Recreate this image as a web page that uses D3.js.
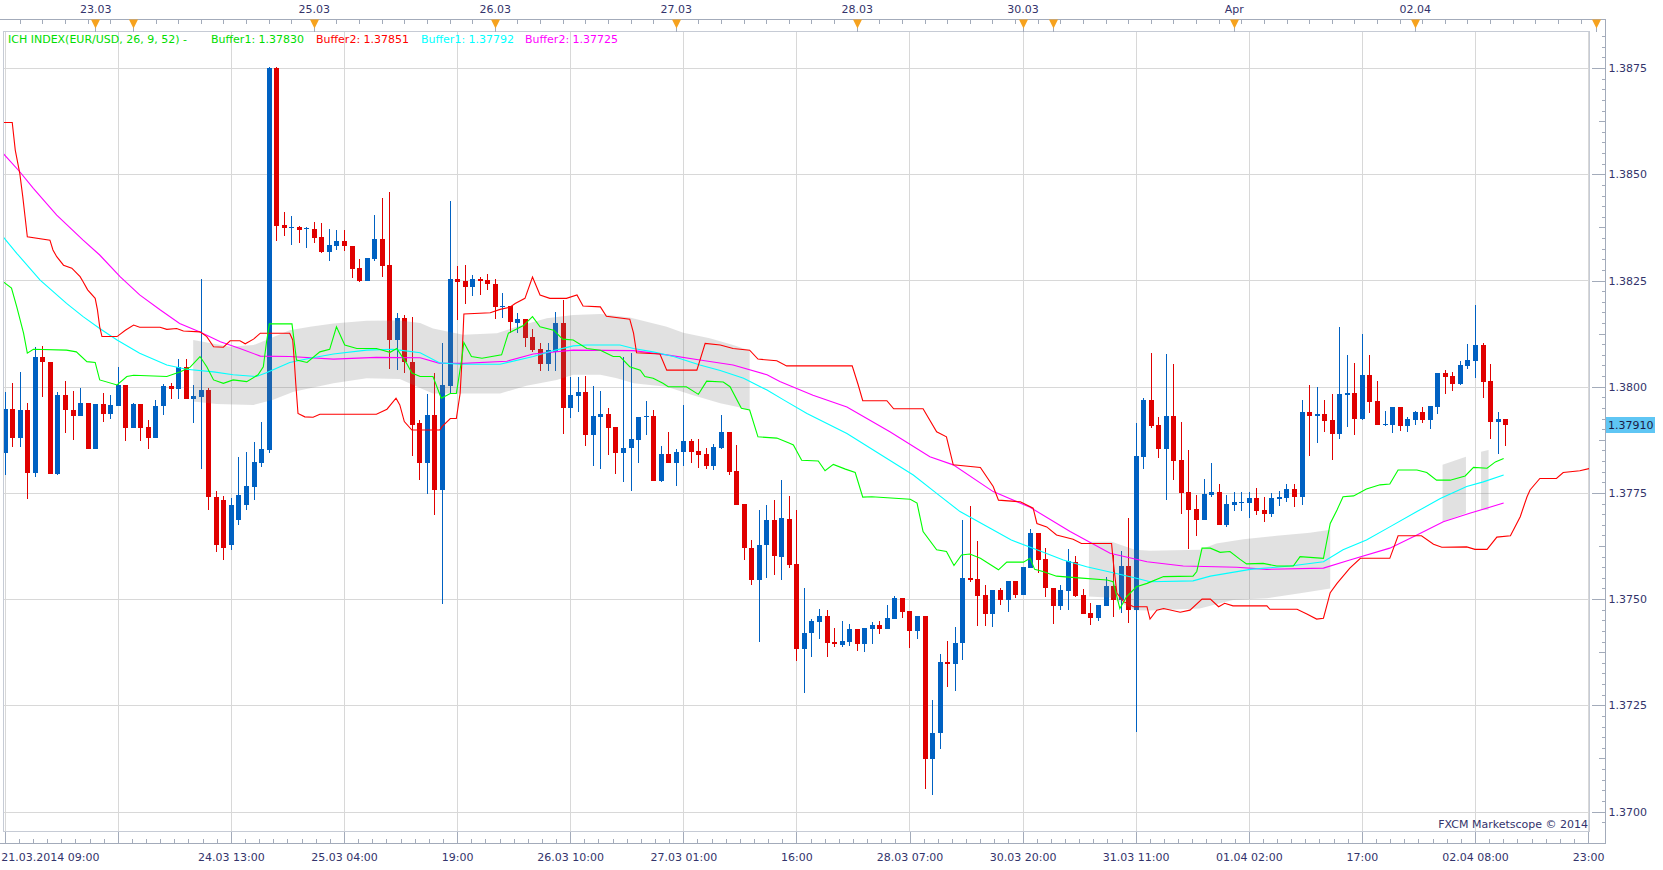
<!DOCTYPE html>
<html>
<head>
<meta charset="utf-8">
<script src="https://cdnjs.cloudflare.com/ajax/libs/d3/7.8.5/d3.min.js"></script>
<style>
body { margin: 0; background: #fff; }
svg text { font-family: "DejaVu Sans", Verdana, sans-serif; font-size: 11px; fill: #33336b; }
</style>
</head>
<body>
<div id="chart"></div>
<script>
// hourly EUR/USD bars, 21.03.2014 09:00 .. 02.04.2014 12:00
var open = [
1.37845,1.37948,1.3788,1.37945,1.37798,1.3807,1.38058,1.37795,1.3798,1.37945,
1.37931,1.37962,1.37854,1.37959,1.37936,1.37955,1.38004,1.37903,1.37959,1.37905,
1.3788,1.37955,1.38002,1.37995,1.38046,1.37972,1.37976,1.37992,1.3774,1.37733,
1.37627,1.37686,1.37722,1.37765,1.37821,1.37851,1.3875,1.38381,1.38373,1.38377,
1.38373,1.38371,1.38353,1.38318,1.38332,1.38343,1.38332,1.3828,1.38249,1.38301,
1.38348,1.38287,1.38111,1.38161,1.38059,1.37914,1.37821,1.37933,1.37757,1.38002,
1.38254,1.38249,1.38235,1.38254,1.38251,1.38242,1.38188,1.38189,1.38151,1.38159,
1.38118,1.38088,1.38054,1.38081,1.38149,1.37951,1.37979,1.37988,1.37886,1.37929,
1.37936,1.37905,1.37845,1.37855,1.37875,1.37928,1.37931,1.37779,1.37842,1.37821,
1.37846,1.37872,1.37849,1.37841,1.37813,1.37856,1.37893,1.37802,1.37724,1.3762,
1.37545,1.37627,1.37686,1.376,1.37689,1.37583,1.37382,1.3742,1.37447,1.3746,
1.37399,1.37392,1.374,1.3743,1.37395,1.3743,1.37439,1.3743,1.37453,1.37503,
1.37472,1.37426,1.3746,1.37124,1.37184,1.37352,1.37348,1.37396,1.3755,1.37547,
1.3751,1.37466,1.37521,1.37498,1.37543,1.3751,1.37574,1.37656,1.37594,1.37527,
1.37484,1.3752,1.37588,1.3751,1.37467,1.37456,1.37484,1.37531,1.37498,1.37578,
1.37474,1.37835,1.37969,1.3791,1.37853,1.37931,1.37827,1.37752,1.37712,1.37686,
1.37745,1.37752,1.37674,1.37722,1.37727,1.37727,1.37738,1.3771,1.37701,1.37736,
1.37738,1.37759,1.3774,1.3794,1.37932,1.37936,1.37922,1.37889,1.3798,1.37985,
1.37924,1.38028,1.37966,1.3791,1.3791,1.37952,1.37907,1.37922,1.3794,1.37922,
1.37952,1.38032,1.38025,1.38006,1.38049,1.38061,1.38098,1.38013,1.37917,1.37924
];
var high = [
1.37988,1.38009,1.38035,1.37962,1.38093,1.38096,1.38058,1.37988,1.38013,1.3799,
1.37997,1.37962,1.37959,1.37984,1.3798,1.38046,1.38004,1.37962,1.37959,1.37922,
1.37969,1.38006,1.38009,1.38065,1.38065,1.38004,1.38254,1.37997,1.37754,1.37743,
1.37738,1.37835,1.37846,1.37869,1.37917,1.38752,1.38752,1.38411,1.38402,1.38379,
1.38376,1.38388,1.38385,1.38371,1.38369,1.38369,1.38332,1.38301,1.38303,1.38404,
1.38445,1.38459,1.38174,1.38169,1.38165,1.37922,1.37983,1.38033,1.38102,1.38438,
1.38284,1.38287,1.38263,1.38259,1.38265,1.38254,1.3822,1.38189,1.38174,1.38159,
1.38135,1.38102,1.38102,1.38177,1.38204,1.38024,1.38024,1.38025,1.38002,1.37991,
1.37951,1.37905,1.3807,1.3808,1.37929,1.37966,1.37945,1.37861,1.37893,1.37853,
1.37957,1.37876,1.37878,1.37855,1.37866,1.37933,1.37893,1.37863,1.37724,1.37639,
1.3771,1.37722,1.37733,1.3778,1.37743,1.3771,1.37525,1.37452,1.37477,1.37474,
1.37431,1.37449,1.37441,1.3743,1.37432,1.37445,1.37448,1.37486,1.37508,1.37503,
1.37472,1.3746,1.3746,1.37262,1.37371,1.37402,1.37434,1.37686,1.37719,1.37637,
1.37533,1.37521,1.37525,1.37543,1.37543,1.37576,1.37666,1.37656,1.37621,1.37527,
1.37534,1.37618,1.37602,1.37524,1.37491,1.37486,1.37552,1.37604,1.37613,1.37692,
1.37914,1.37974,1.38079,1.37929,1.38077,1.38053,1.37917,1.37851,1.37745,1.37783,
1.3782,1.37771,1.37745,1.37752,1.37752,1.37752,1.37762,1.3774,1.3775,1.37754,
1.37771,1.37771,1.37969,1.38004,1.37999,1.37969,1.37983,1.38141,1.38075,1.38056,
1.38124,1.38075,1.38013,1.37943,1.37952,1.37952,1.37929,1.37943,1.37952,1.37955,
1.38032,1.38039,1.38035,1.38061,1.38101,1.38192,1.38103,1.38053,1.3794,1.37924
];
var low = [
1.37792,1.37859,1.37859,1.37736,1.37788,1.37976,1.37795,1.37793,1.3789,1.37875,
1.37931,1.37854,1.37854,1.37918,1.37924,1.37955,1.37871,1.37903,1.37873,1.37854,
1.3788,1.37933,1.37972,1.37972,1.37972,1.37915,1.37807,1.3771,1.37611,1.37592,
1.37616,1.37674,1.3771,1.37733,1.37812,1.37845,1.38344,1.38355,1.38334,1.38339,
1.38327,1.38339,1.38314,1.38297,1.38322,1.3832,1.38257,1.38247,1.38249,1.38297,
1.38259,1.38042,1.38039,1.38033,1.37838,1.3778,1.37747,1.37698,1.37489,1.37984,
1.38157,1.38195,1.38214,1.38216,1.38228,1.38159,1.38162,1.38127,1.38127,1.38094,
1.38082,1.38038,1.38038,1.38038,1.37889,1.37927,1.3794,1.37861,1.37814,1.37807,
1.37839,1.37794,1.37776,1.37755,1.37821,1.37886,1.37779,1.37776,1.37821,1.37767,
1.37814,1.37821,1.37809,1.37807,1.37803,1.37853,1.37791,1.37722,1.37592,1.37533,
1.37399,1.3755,1.37557,1.37545,1.37573,1.37355,1.37278,1.37363,1.37407,1.37364,
1.37388,1.37388,1.3739,1.37379,1.37375,1.37395,1.37418,1.3743,1.37453,1.37456,
1.37386,1.37407,1.37052,1.37039,1.37146,1.37292,1.37284,1.37357,1.37541,1.37437,
1.37437,1.37435,1.37487,1.3747,1.37502,1.3751,1.37574,1.37561,1.37506,1.37442,
1.37474,1.37474,1.37506,1.37466,1.3744,1.37448,1.37484,1.37459,1.37467,1.37443,
1.37186,1.37806,1.37902,1.37833,1.37733,1.3778,1.377,1.37619,1.37649,1.37686,
1.37741,1.37674,1.3767,1.37707,1.37707,1.37691,1.37699,1.37682,1.37694,1.37719,
1.37729,1.37717,1.37722,1.37837,1.37867,1.37893,1.37827,1.37877,1.37905,1.37886,
1.37922,1.37938,1.3791,1.37907,1.37891,1.37896,1.37893,1.3791,1.37915,1.37901,
1.37936,1.37983,1.3799,1.38004,1.38042,1.38021,1.37973,1.37877,1.37842,1.3786
];
var close = [
1.37948,1.3788,1.37945,1.37798,1.3807,1.38057,1.37795,1.3798,1.37944,1.37931,
1.37962,1.37854,1.37959,1.37936,1.37957,1.38004,1.37903,1.37959,1.37903,1.3788,
1.37955,1.38002,1.37995,1.38046,1.37972,1.37978,1.37992,1.3774,1.37627,1.3762,
1.37722,1.37745,1.37766,1.37823,1.37853,1.3875,1.38378,1.38373,1.38376,1.38369,
1.38374,1.38351,1.38318,1.38334,1.38343,1.38331,1.38278,1.38249,1.38303,1.38348,
1.38285,1.38111,1.38161,1.38057,1.3791,1.37821,1.37933,1.37757,1.38004,1.38254,
1.38247,1.38235,1.38254,1.3825,1.38241,1.38188,1.38189,1.38153,1.38159,1.38115,
1.38086,1.38054,1.38086,1.38149,1.37951,1.3798,1.37988,1.37886,1.37931,1.37936,
1.37903,1.37845,1.37856,1.37878,1.37929,1.37931,1.37779,1.37842,1.37821,1.37846,
1.37872,1.37846,1.37839,1.37813,1.37859,1.37893,1.378,1.37722,1.3762,1.37545,
1.37627,1.37686,1.37601,1.3769,1.3758,1.37382,1.3742,1.37448,1.3746,1.37397,
1.37394,1.37401,1.3743,1.37395,1.37432,1.37439,1.3743,1.37456,1.37503,1.3747,
1.37426,1.3746,1.37124,1.37184,1.37352,1.37348,1.37396,1.3755,1.37545,1.37507,
1.37466,1.37521,1.37498,1.37543,1.3751,1.37576,1.37656,1.37592,1.37525,1.37484,
1.37521,1.3759,1.37508,1.37466,1.37456,1.37486,1.37531,1.37498,1.37578,1.37474,
1.37837,1.37969,1.37907,1.37853,1.37931,1.37826,1.3775,1.3771,1.37686,1.37747,
1.37752,1.37674,1.37724,1.37729,1.37729,1.37738,1.37707,1.37701,1.37738,1.3774,
1.37759,1.3774,1.3794,1.37932,1.37936,1.37919,1.37889,1.37983,1.37985,1.37924,
1.38028,1.37964,1.3791,1.37912,1.37952,1.37907,1.37924,1.3794,1.37922,1.37955,
1.38032,1.38023,1.38006,1.38051,1.38063,1.38098,1.38011,1.37917,1.37924,1.3791
];

// indicator lines: [bar index, price]
var greenLine = [
[-0.6,1.38247],[-0.2,1.38247],[0.9,1.38232],[1.6,1.38188],[2.5,1.38126],[3.0,1.38079],[3.8,1.38088],[8.2,1.38086],[9.5,1.38082],[10.9,1.38059],[12.0,1.38057],[12.6,1.38016],[14.9,1.38004],[16.2,1.38024],[17.1,1.38027],[21.5,1.38024],[23.3,1.38035],[24.6,1.38046],[25.9,1.38071],[26.8,1.38047],[27.7,1.38016],[29.0,1.38008],[30.3,1.38016],[32.1,1.38012],[33.6,1.38028],[34.3,1.38047],[34.7,1.38102],[35.1,1.38148],[38.1,1.38148],[38.7,1.38063],[40.1,1.38057],[41.8,1.38082],[43.1,1.38088],[44.0,1.38141],[45.1,1.38098],[46.7,1.3809],[49.3,1.3809],[51.1,1.38081],[52.0,1.3809],[53.3,1.38055],[54.0,1.38032],[55.1,1.38024],[56.8,1.38024],[57.9,1.37973],[59.1,1.37984],[59.9,1.37984],[60.6,1.38063],[60.9,1.38104],[61.9,1.38071],[63.3,1.38067],[65.9,1.38075],[66.8,1.38126],[68.8,1.38144],[70.0,1.38165],[71.0,1.38141],[72.8,1.38133],[74.0,1.38112],[75.4,1.3811],[77.2,1.3809],[79.0,1.38086],[80.7,1.38071],[81.6,1.38071],[82.9,1.38047],[84.3,1.38039],[84.9,1.38024],[86.0,1.3802],[87.3,1.38008],[88.0,1.38],[90.4,1.38],[92.0,1.37982],[93.1,1.38013],[95.3,1.38011],[96.2,1.38],[97.7,1.37949],[98.8,1.37945],[99.9,1.37882],[102.4,1.37879],[104.1,1.37867],[104.6,1.37863],[105.7,1.37827],[107.9,1.37825],[108.8,1.37802],[109.9,1.37817],[111.5,1.37806],[112.8,1.37798],[113.8,1.3774],[115.0,1.37741],[120.1,1.37735],[121.0,1.37726],[121.8,1.37659],[123.6,1.37616],[124.9,1.37612],[125.9,1.37579],[126.9,1.37604],[128.0,1.37606],[129.4,1.37596],[131.8,1.37569],[132.9,1.37587],[135.1,1.37587],[136.0,1.37596],[136.6,1.3757],[137.7,1.37565],[139.5,1.37554],[142.4,1.3755],[146.2,1.37545],[147.0,1.37541],[147.9,1.37478],[148.8,1.37506],[150.1,1.37529],[151.5,1.37537],[153.7,1.37553],[157.6,1.37554],[158.1,1.37565],[158.8,1.3762],[159.9,1.3762],[161.2,1.3761],[162.5,1.37612],[163.8,1.37594],[164.7,1.37583],[166.9,1.37584],[168.7,1.37578],[170.9,1.37578],[171.8,1.376],[174.9,1.37596],[175.8,1.37678],[176.7,1.3771],[177.5,1.37741],[178.9,1.37743],[180.6,1.37759],[182.4,1.37769],[183.7,1.37771],[184.8,1.37804],[187.3,1.37804],[188.6,1.37798],[189.9,1.3778],[191.7,1.3778],[193.7,1.3779],[194.8,1.3781],[196.6,1.37808],[197.7,1.37823],[198.8,1.37831]
];
var redLine = [
[-0.6,1.38622],[1.0,1.38622],[1.4,1.38557],[2.0,1.38502],[2.4,1.38447],[2.7,1.384],[3.0,1.38353],[6.0,1.38345],[6.4,1.38322],[6.9,1.38306],[7.8,1.38286],[8.9,1.38279],[10.0,1.38259],[10.4,1.38247],[11.0,1.38228],[12.0,1.38208],[12.3,1.38181],[12.6,1.38141],[12.9,1.38118],[14.9,1.38118],[16.0,1.38133],[17.1,1.38145],[17.9,1.3814],[20.6,1.3814],[21.5,1.38135],[22.8,1.38137],[23.7,1.38131],[25.9,1.38129],[26.8,1.38118],[27.7,1.38094],[29.0,1.38093],[29.9,1.38108],[31.2,1.38108],[31.9,1.38101],[33.0,1.38112],[33.9,1.38126],[37.8,1.38126],[38.2,1.3811],[38.4,1.38063],[38.6,1.38008],[38.9,1.37937],[39.8,1.37929],[40.9,1.37928],[41.8,1.37935],[49.3,1.37935],[50.7,1.37947],[51.9,1.37973],[52.4,1.37957],[53.0,1.37918],[54.0,1.37898],[57.7,1.37898],[58.0,1.37906],[59.1,1.37925],[59.9,1.37925],[60.4,1.37984],[60.6,1.38047],[60.9,1.38171],[64.4,1.38174],[65.7,1.38182],[67.0,1.38187],[67.7,1.38196],[69.0,1.38208],[70.0,1.38258],[71.0,1.38216],[72.3,1.38208],[74.5,1.38208],[75.9,1.38216],[76.7,1.3819],[79.0,1.38188],[79.8,1.38166],[82.9,1.38159],[83.4,1.38126],[83.8,1.3808],[86.9,1.38077],[87.8,1.38039],[91.8,1.38039],[92.9,1.38102],[94.9,1.38098],[96.6,1.3809],[98.8,1.38086],[99.9,1.38065],[102.4,1.38061],[103.7,1.38049],[112.4,1.38049],[113.2,1.38004],[113.8,1.37967],[117.0,1.37967],[117.9,1.37948],[121.8,1.37948],[123.6,1.37894],[124.9,1.37882],[125.8,1.37816],[129.4,1.3781],[131.1,1.37765],[131.8,1.37733],[134.7,1.37729],[136.4,1.37714],[136.9,1.37678],[138.2,1.3767],[139.5,1.37651],[141.7,1.37641],[142.8,1.37631],[146.8,1.37631],[147.0,1.37592],[147.5,1.37514],[148.4,1.37494],[149.7,1.37482],[151.5,1.37482],[151.9,1.37453],[152.8,1.37474],[153.7,1.37478],[155.9,1.37469],[157.2,1.37474],[158.8,1.375],[159.9,1.375],[161.0,1.37482],[161.8,1.3749],[162.9,1.37484],[167.4,1.37484],[167.8,1.37476],[171.4,1.37476],[172.7,1.37465],[174.0,1.37453],[174.9,1.37455],[175.8,1.37515],[176.7,1.37537],[178.4,1.37573],[179.8,1.37596],[183.7,1.37596],[184.8,1.37649],[187.9,1.37649],[189.5,1.37629],[190.6,1.37622],[193.9,1.37623],[195.0,1.37617],[196.6,1.37617],[197.9,1.37646],[199.7,1.37649],[201.0,1.37694],[201.9,1.37741],[202.3,1.37757],[203.6,1.37784],[205.8,1.37784],[206.7,1.37798],[208.9,1.37802],[210.3,1.37808]
];
var cyanLine = [
[-0.6,1.38361],[1.6,1.38314],[4.7,1.38251],[8.2,1.38196],[10.4,1.38165],[12.6,1.38137],[14.9,1.3811],[17.9,1.38079],[21.5,1.38051],[24.1,1.38041],[27.7,1.38035],[30.3,1.38028],[33.4,1.38024],[34.7,1.38033],[37.8,1.38057],[40.5,1.38067],[43.6,1.38077],[48.0,1.38086],[51.5,1.38088],[52.4,1.38086],[55.1,1.3808],[57.7,1.38056],[60.4,1.38053],[65.7,1.38053],[70.1,1.38071],[72.8,1.38085],[75.4,1.38096],[77.2,1.38098],[81.6,1.38098],[83.4,1.3809],[86.0,1.38082],[88.7,1.38071],[92.2,1.38051],[94.9,1.38038],[98.0,1.3802],[101.1,1.37992],[103.3,1.37969],[106.4,1.37937],[111.7,1.3789],[117.0,1.37831],[120.5,1.37792],[123.6,1.37749],[126.7,1.37706],[130.7,1.37667],[133.5,1.37639],[136.9,1.37616],[140.4,1.37592],[143.5,1.37576],[147.0,1.37562],[150.1,1.37549],[151.9,1.37541],[157.6,1.37543],[159.9,1.37554],[165.2,1.3757],[170.5,1.37578],[174.9,1.37588],[177.5,1.37616],[180.6,1.37639],[183.7,1.3767],[187.3,1.37706],[190.4,1.37737],[193.9,1.37765],[196.1,1.37776],[198.8,1.37792]
];
var magentaLine = [
[-0.6,1.38557],[2.0,1.38506],[3.8,1.38467],[6.9,1.38404],[10.4,1.38345],[12.6,1.3831],[15.3,1.38259],[17.9,1.38216],[20.6,1.38181],[23.2,1.38149],[25.9,1.38129],[28.6,1.38106],[31.2,1.3809],[33.9,1.38072],[37.8,1.38071],[43.6,1.38065],[49.3,1.38069],[55.1,1.38068],[57.7,1.38055],[60.8,1.38055],[66.6,1.3806],[70.1,1.38077],[75.4,1.38086],[83.4,1.38085],[87.8,1.38075],[92.2,1.38063],[96.6,1.38051],[101.1,1.38028],[102.8,1.38012],[107.2,1.3798],[111.7,1.37952],[117.4,1.37894],[122.7,1.37835],[125.8,1.37816],[131.1,1.37753],[136.0,1.37716],[141.3,1.37659],[146.6,1.37608],[151.5,1.37588],[156.3,1.37578],[163.4,1.37575],[167.4,1.3757],[174.9,1.37573],[178.4,1.37592],[183.7,1.3762],[187.3,1.37651],[190.8,1.37682],[194.3,1.37702],[198.8,1.37726]
];

// grey cloud pieces: upper and lower edges
var cloudTops = [
[[25.0,1.3811],[29.9,1.38094],[33.0,1.38098],[34.7,1.3811],[37.8,1.38133],[40.5,1.38141],[43.6,1.38149],[48.0,1.38155],[52.4,1.38156],[55.1,1.3815],[56.8,1.38137],[60.8,1.38122],[65.3,1.38126],[67.9,1.38141],[71.9,1.38161],[75.4,1.38169],[79.0,1.38171],[82.9,1.38163],[87.8,1.38141],[90.0,1.38127],[93.5,1.38114],[96.6,1.38098],[98.8,1.38085]],
[[143.8,1.37635],[146.8,1.37635],[149.9,1.37616],[151.9,1.37614],[158.5,1.37616],[160.7,1.37631],[164.3,1.37641],[168.7,1.37649],[173.1,1.37656],[175.8,1.37663]],
[[190.7,1.37816],[193.8,1.37835]],
[[195.8,1.37847],[196.8,1.37851]]
];
var cloudBottoms = [
[[25.0,1.37965],[28.1,1.37959],[33.0,1.37957],[35.6,1.37969],[38.3,1.37988],[43.6,1.38008],[48.0,1.3802],[52.4,1.38018],[55.7,1.37992],[56.8,1.37984],[65.7,1.37984],[69.2,1.38002],[73.2,1.38016],[75.4,1.38028],[79.0,1.38028],[81.2,1.3802],[83.4,1.38008],[87.8,1.38],[91.3,1.3798],[94.9,1.37961],[97.1,1.37953],[98.8,1.37945]],
[[143.8,1.37506],[146.8,1.37503],[149.9,1.37474],[151.9,1.37473],[158.5,1.37478],[162.9,1.37498],[167.4,1.37502],[171.8,1.37514],[175.8,1.37525]],
[[190.7,1.37682],[193.8,1.37702]],
[[195.8,1.3771],[196.8,1.3771]]
];

var xTickBars = [0, 15, 30, 45, 60, 75, 90, 105, 120, 135, 150, 165, 180, 195, 210];
var xTickLabels = ["21.03.2014 09:00", "", "24.03 13:00", "25.03 04:00", "19:00", "26.03 10:00", "27.03 01:00",
  "16:00", "28.03 07:00", "30.03 20:00", "31.03 11:00", "01.04 02:00", "17:00", "02.04 08:00", "23:00"];
var dayBars = [12, 17, 41, 65, 89, 113, 135, 139, 163, 187, 211];
var dayLabels = ["23.03", "", "25.03", "26.03", "27.03", "28.03", "30.03", "", "Apr", "02.04", ""];
var priceTicks = [1.37, 1.3725, 1.375, 1.3775, 1.38, 1.3825, 1.385, 1.3875];
var lastPrice = 1.3791;

var legendParts = [
  {text: "ICH INDEX(EUR/USD, 26, 9, 52) -", color: "#00dd00", x: 8},
  {text: "Buffer1: 1.37830", color: "#00dd00", x: 211},
  {text: "Buffer2: 1.37851", color: "#ff0000", x: 316},
  {text: "Buffer1: 1.37792", color: "#00ffff", x: 421},
  {text: "Buffer2: 1.37725", color: "#ff00ff", x: 525}
];

var W = 1663, H = 870;
var box = {left: 3.5, right: 1589.5, top: 31.5, bottom: 831.5};
var axisX = 1605.5, axisTopY = 19.5, axisBottomY = 843.5;

var x = d3.scaleLinear().domain([0, 210]).range([4.7, 1588.1]);
var y = d3.scaleLinear().domain([1.37, 1.3875]).range([811.5, 68.1]);

var svg = d3.select("#chart").append("svg")
    .attr("width", W)
    .attr("height", H);

svg.append("defs").append("clipPath").attr("id", "plotclip")
  .append("rect")
    .attr("x", box.left + 0.5).attr("y", box.top + 0.5)
    .attr("width", box.right - box.left - 1).attr("height", box.bottom - box.top - 1);

// grid
var grid = svg.append("g").attr("shape-rendering", "crispEdges");
grid.selectAll("line.h").data(priceTicks).enter().append("line")
    .attr("x1", box.left).attr("x2", box.right)
    .attr("y1", function(d) { return Math.round(y(d)) + 0.5; })
    .attr("y2", function(d) { return Math.round(y(d)) + 0.5; })
    .attr("stroke", "#d8d8d8");
grid.selectAll("line.v").data(xTickBars).enter().append("line")
    .attr("y1", box.top).attr("y2", box.bottom)
    .attr("x1", function(d) { return Math.round(x(d)) + 0.5; })
    .attr("x2", function(d) { return Math.round(x(d)) + 0.5; })
    .attr("stroke", "#d8d8d8");

var plot = svg.append("g").attr("clip-path", "url(#plotclip)");

// candles
var bars = d3.range(open.length);
var cg = plot.append("g").attr("shape-rendering", "crispEdges");
cg.selectAll("line").data(bars).enter().append("line")
    .attr("x1", function(i) { return Math.round(x(i)) + 0.5; })
    .attr("x2", function(i) { return Math.round(x(i)) + 0.5; })
    .attr("y1", function(i) { return y(Math.max(high[i], open[i], close[i])); })
    .attr("y2", function(i) { return y(Math.min(low[i], open[i], close[i])); })
    .attr("stroke", function(i) { return close[i] >= open[i] ? "#0061c2" : "#e00000"; });
cg.selectAll("rect").data(bars).enter().append("rect")
    .attr("x", function(i) { return Math.round(x(i)) - 2; })
    .attr("width", 5)
    .attr("y", function(i) { return y(Math.max(open[i], close[i])); })
    .attr("height", function(i) { return Math.max(1, Math.abs(y(open[i]) - y(close[i]))); })
    .attr("fill", function(i) { return close[i] >= open[i] ? "#0061c2" : "#e00000"; });

// cloud
var edge = d3.line().x(function(d) { return x(d[0]); }).y(function(d) { return y(d[1]); });
plot.selectAll("path.cloud").data(cloudTops).enter().append("path")
    .attr("class", "cloud")
    .attr("d", function(top, k) { return edge(top.concat(cloudBottoms[k].slice().reverse())) + "Z"; })
    .attr("fill", "rgba(120,120,120,0.22)");

// indicator lines
var series = [
  {data: magentaLine, color: "#ff00ff"},
  {data: cyanLine, color: "#00ffff"},
  {data: redLine, color: "#ff0000"},
  {data: greenLine, color: "#00ff00"}
];
plot.selectAll("path.ind").data(series).enter().append("path")
    .attr("class", "ind")
    .attr("d", function(s) { return edge(s.data); })
    .attr("fill", "none")
    .attr("stroke", function(s) { return s.color; })
    .attr("stroke-width", 1.1);

// plot frame
svg.append("rect")
    .attr("x", box.left).attr("y", box.top)
    .attr("width", box.right - box.left).attr("height", box.bottom - box.top)
    .attr("fill", "none").attr("stroke", "#c6cbd5").attr("shape-rendering", "crispEdges");

// axis lines
var axes = svg.append("g").attr("shape-rendering", "crispEdges").attr("stroke", "#a3abba");
axes.append("line").attr("x1", 0).attr("x2", axisX).attr("y1", axisTopY).attr("y2", axisTopY);
axes.append("line").attr("x1", 0).attr("x2", axisX).attr("y1", axisBottomY).attr("y2", axisBottomY);
axes.append("line").attr("x1", axisX).attr("x2", axisX).attr("y1", axisTopY).attr("y2", axisBottomY);

function tidy(g) {
  g.select(".domain").remove();
  g.selectAll(".tick line").attr("stroke", "#a3abba");
  g.attr("shape-rendering", "crispEdges");
}

// y axis ticks and labels
var inPlot = function(v) { return y(v) > box.top + 2 && y(v) < box.bottom - 2; };
svg.append("g").attr("transform", "translate(" + axisX + ",0)")
    .call(d3.axisLeft(y).tickValues(d3.range(1.3690, 1.3890, 0.00025).filter(inPlot)).tickSize(4).tickFormat(""))
    .call(tidy);
svg.append("g").attr("transform", "translate(" + axisX + ",0)")
    .call(d3.axisLeft(y).tickValues(d3.range(1.36875, 1.3890, 0.0025).filter(inPlot)).tickSize(7).tickFormat(""))
    .call(tidy);
svg.append("g").attr("transform", "translate(" + axisX + ",0)")
    .call(d3.axisLeft(y).tickValues(priceTicks).tickSize(14).tickFormat(""))
    .call(tidy);
var yLab = svg.append("g").attr("transform", "translate(" + axisX + ",0)")
    .call(d3.axisRight(y).tickValues(priceTicks).tickSize(0).tickPadding(3).tickFormat(d3.format(".4f")))
    .call(tidy);
yLab.selectAll("text").attr("fill", "#33336b").style("font-family", '"DejaVu Sans", Verdana, sans-serif').style("font-size", "11px");

// current price marker
svg.append("rect")
    .attr("x", axisX + 0.5).attr("y", Math.round(y(lastPrice)) - 8)
    .attr("width", 49).attr("height", 16)
    .attr("fill", "#5fc6f4");
svg.append("text")
    .attr("x", axisX + 2.5).attr("y", Math.round(y(lastPrice)) + 4)
    .style("fill", "#1b1b45")
    .text(d3.format(".5f")(lastPrice));

// bottom axis
svg.append("g").attr("transform", "translate(0," + axisBottomY + ")")
    .call(d3.axisTop(x).tickValues(d3.range(0, 210.01, 1.875)).tickSize(5).tickFormat(""))
    .call(tidy);
svg.append("g").attr("transform", "translate(0," + axisBottomY + ")")
    .call(d3.axisTop(x).tickValues(xTickBars).tickSize(12).tickFormat(""))
    .call(tidy);
var xLab = svg.append("g").attr("transform", "translate(0," + axisBottomY + ")")
    .call(d3.axisBottom(x).tickValues(xTickBars).tickSize(0).tickPadding(10)
      .tickFormat(function(d, k) { return xTickLabels[k]; }))
    .call(tidy);
xLab.selectAll("text").attr("fill", "#33336b").style("font-family", '"DejaVu Sans", Verdana, sans-serif').style("font-size", "11px");
xLab.select(".tick text").attr("text-anchor", "start").attr("x", -4);

// top axis: day markers
svg.append("g").attr("transform", "translate(0," + axisTopY + ")")
    .call(d3.axisBottom(x).tickValues(d3.range(2, 211, 3)).tickSize(4).tickFormat(""))
    .call(tidy);
var topLab = svg.append("g").attr("transform", "translate(0," + axisTopY + ")")
    .call(d3.axisTop(x).tickValues(dayBars).tickSize(0).tickPadding(7)
      .tickFormat(function(d, k) { return dayLabels[k]; }))
    .call(tidy);
topLab.selectAll("text").attr("fill", "#33336b").style("font-family", '"DejaVu Sans", Verdana, sans-serif').style("font-size", "11px");
svg.selectAll("line.sep").data(dayBars).enter().append("line")
    .attr("x1", function(d) { return Math.round(x(d)) + 0.5; })
    .attr("x2", function(d) { return Math.round(x(d)) + 0.5; })
    .attr("y1", axisTopY).attr("y2", box.top)
    .attr("stroke", "#a3abba").attr("shape-rendering", "crispEdges");
svg.selectAll("path.tri").data(dayBars).enter().append("path")
    .attr("d", function(d) {
      var cx = Math.round(x(d)) + 0.5;
      return "M" + (cx - 4.5) + "," + axisTopY + "L" + (cx + 4.5) + "," + axisTopY + "L" + cx + "," + (axisTopY + 9) + "Z";
    })
    .attr("fill", "#f6a21e");

// legend
svg.selectAll("text.leg").data(legendParts).enter().append("text")
    .attr("x", function(d) { return d.x; })
    .attr("y", 43)
    .style("fill", function(d) { return d.color; })
    .text(function(d) { return d.text; });

// watermark
svg.append("text")
    .attr("x", 1588).attr("y", 828)
    .attr("text-anchor", "end")
    .text("FXCM Marketscope \u00a9 2014");
</script>
</body>
</html>
